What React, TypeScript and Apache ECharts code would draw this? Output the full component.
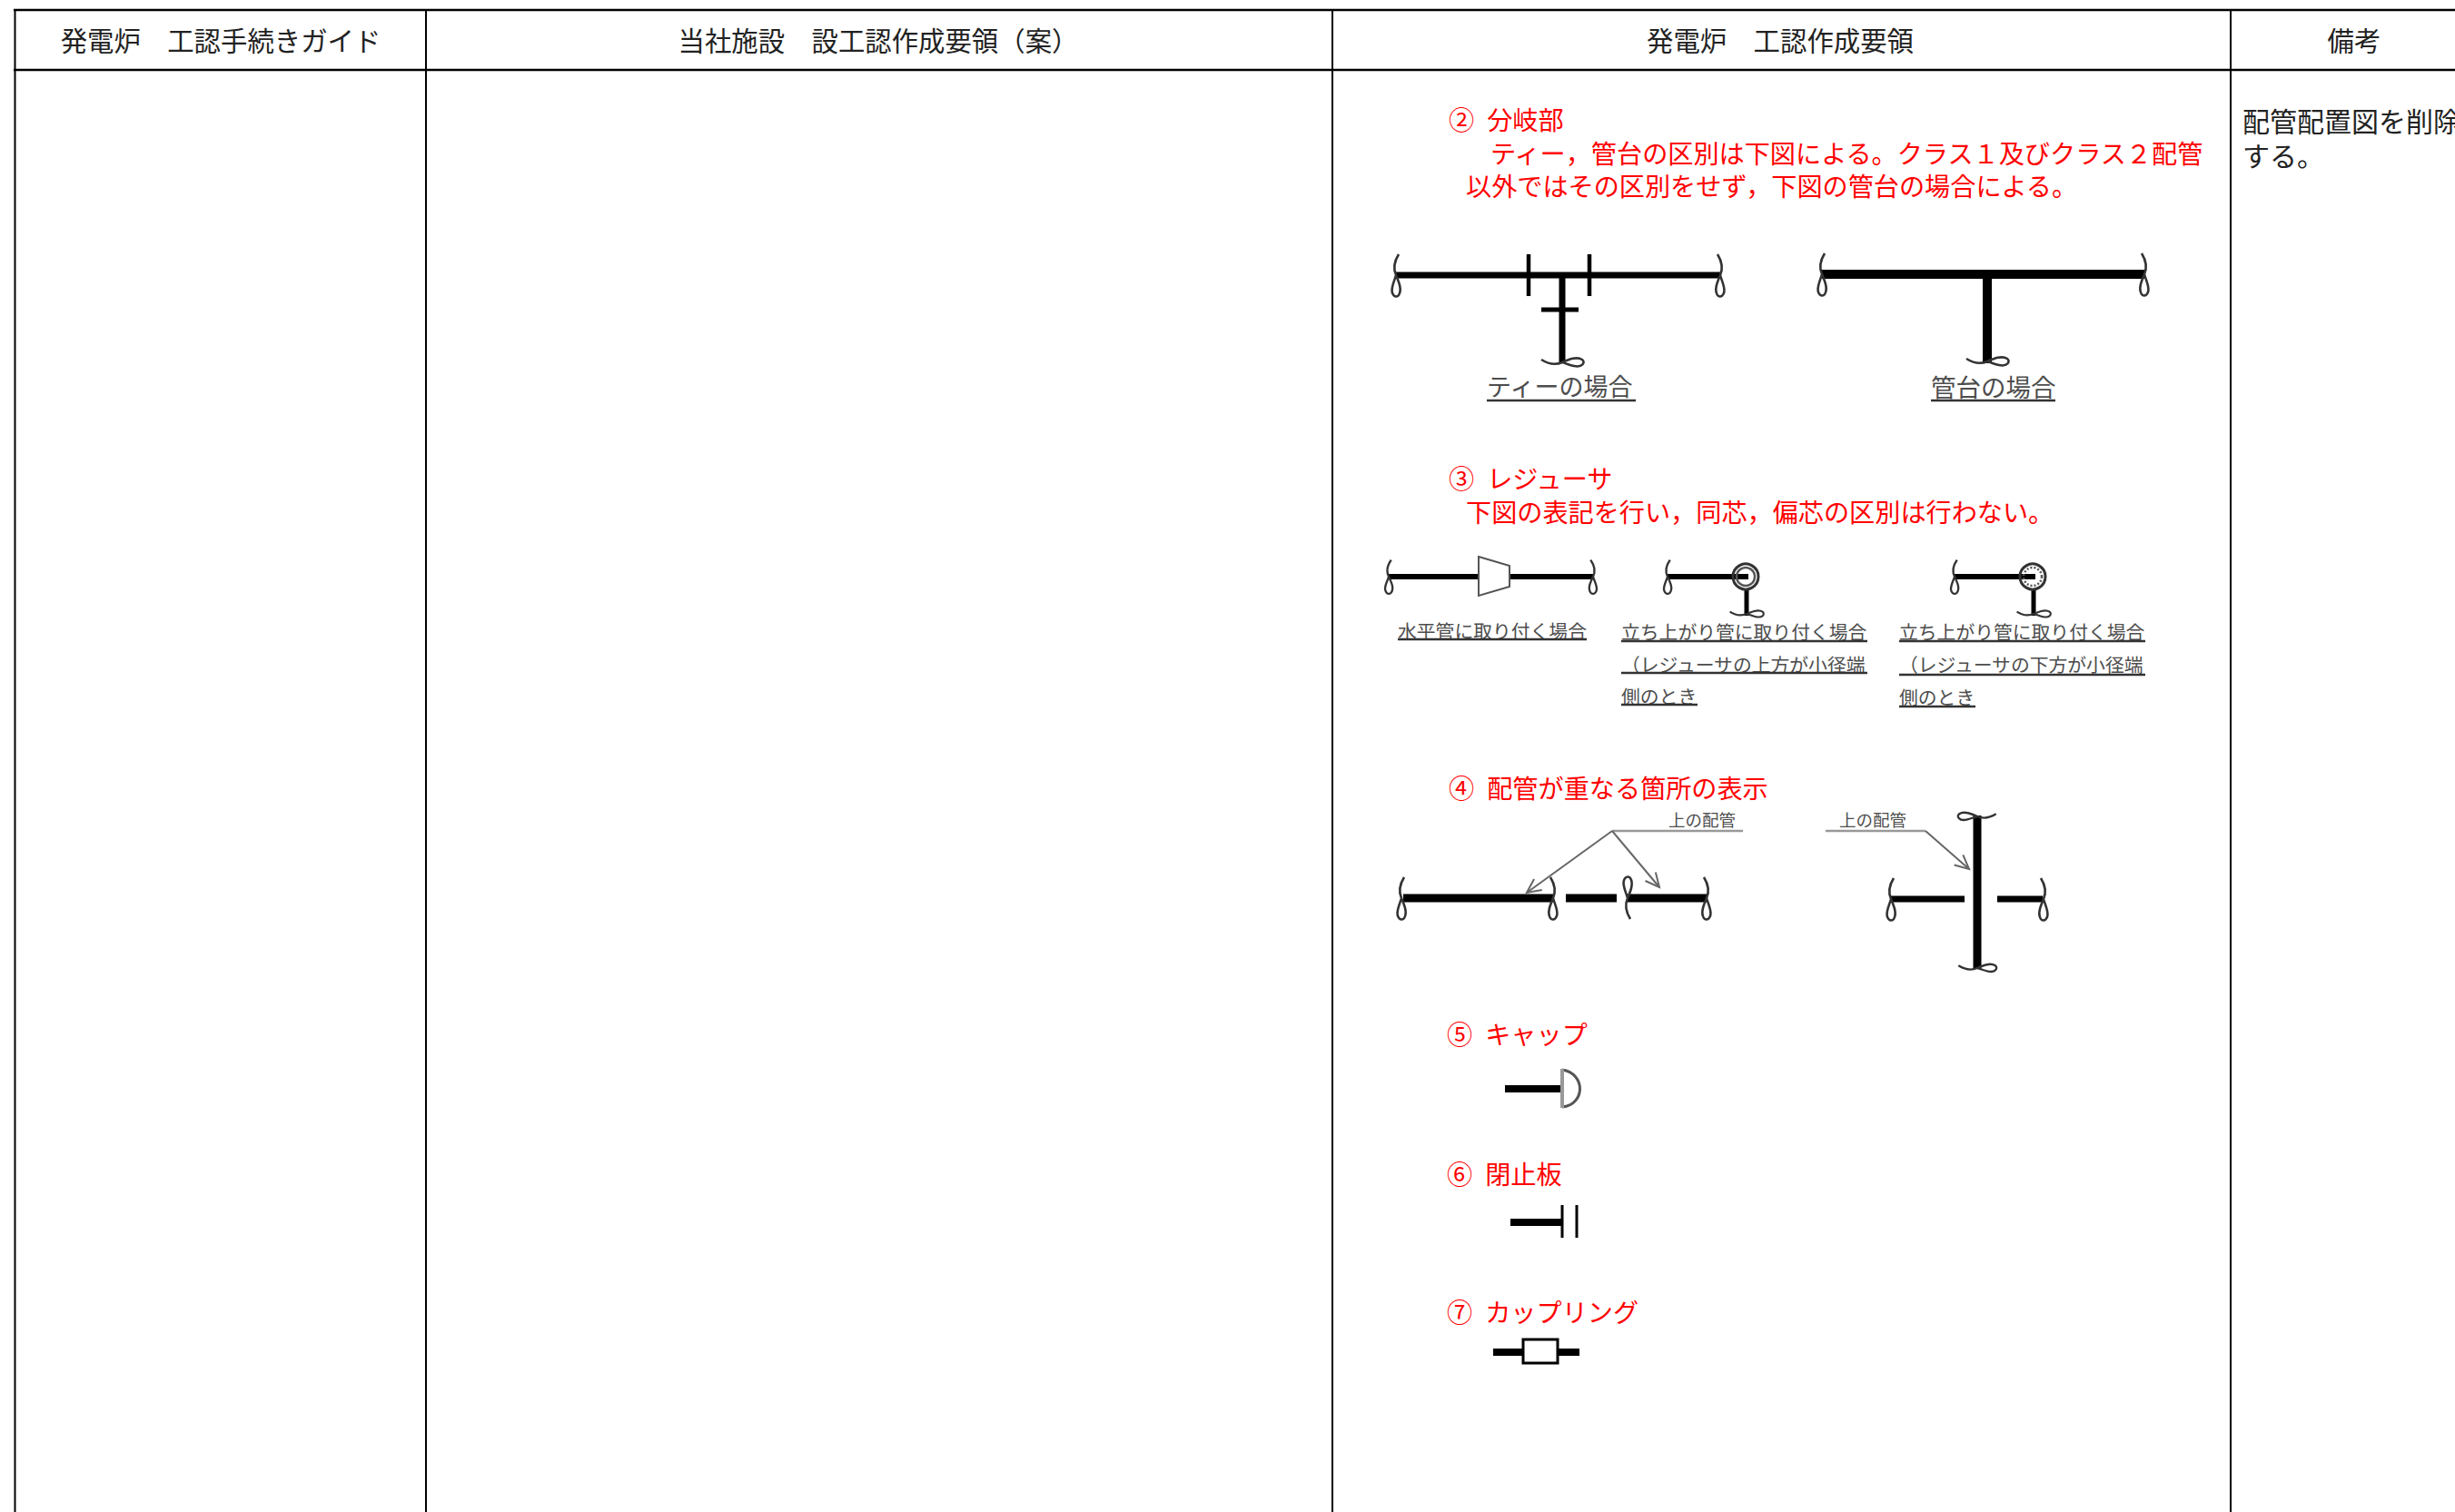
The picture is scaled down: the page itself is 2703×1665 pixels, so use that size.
import React, { useEffect, useRef } from "react";
import * as echarts from "echarts";

const FONT = '"Noto Sans CJK JP", "Noto Sans CJK SC", sans-serif';
const RED = "#ff0000";
const INK = "#000000";
const LABEL = "#4d4d4d";

const headers = ["発電炉　工認手続きガイド", "当社施設　設工認作成要領（案）", "発電炉　工認作成要領", "備考"];
const headerCenters = [243, 967, 1960, 2592];
const columnLines = [16.5, 469, 1467, 2456];

const redTexts: [string, number, number][] = [
  ["②\u2002分岐部", 1595, 130.5],
  ["ティー，管台の区別は下図による。クラス１及びクラス２配管", 1641, 167.5],
  ["以外ではその区別をせず，下図の管台の場合による。", 1614, 203.5],
  ["③\u2002レジューサ", 1595, 525.5],
  ["下図の表記を行い，同芯，偏芯の区別は行わない。", 1614, 562.5],
  ["④\u2002配管が重なる箇所の表示", 1595, 866.5],
  ["⑤\u2002キャップ", 1593, 1137.5],
  ["⑥\u2002閉止板", 1593, 1291.5],
  ["⑦\u2002カップリング", 1593, 1443.5],
];

const remarks: [string, number, number][] = [
  ["配管配置図を削除", 2469, 132],
  ["する。", 2469, 170],
];

// text, x, y, font size, underline y, underline x end
const captions: [string, number, number, number, number, number][] = [
  ["ティーの場合", 1637, 424.5, 27, 441, 1801],
  ["管台の場合", 2126, 424.5, 27.5, 441, 2263],
  ["水平管に取り付く場合", 1539, 693.5, 20.8, 704, 1747],
  ["立ち上がり管に取り付く場合", 1785, 694.5, 20.8, 706, 2056],
  ["（レジューサの上方が小径端", 1785, 730.5, 20.8, 741, 2056],
  ["側のとき", 1785, 765.5, 20.8, 776, 1869],
  ["立ち上がり管に取り付く場合", 2091, 694.5, 20.8, 706, 2362],
  ["（レジューサの下方が小径端", 2091, 731, 20.8, 743, 2362],
  ["側のとき", 2091, 766.5, 20.8, 778, 2175],
];

const overPipeLabel = "上の配管";

echarts.graphic.registerShape(
  "squiggle",
  echarts.graphic.extendPath("M 3 -23 C -2 -15 -3 -7 0 0 C 3 7 7 16 3 22 C 0 26 -6 22 -4 13 C -3 8 -1 4 0 0", {})
);

const txt = (text: string, x: number, y: number, size: number, fill: string, align = "left") => ({
  type: "text",
  x,
  y,
  silent: true,
  style: { text, x: 0, y: 0, fontSize: size, fontFamily: FONT, fill, align, verticalAlign: "middle" },
});

const seg = (x1: number, y1: number, x2: number, y2: number, w: number, stroke = INK) => ({
  type: "line",
  silent: true,
  shape: { x1, y1, x2, y2 },
  style: { stroke, lineWidth: w, lineCap: "butt" },
});

// scale sign flips the squiggle; rotation turns it onto horizontal end
const sq = (x: number, y: number, sx = 1, sy = 1, rot = 0) => ({
  type: "squiggle",
  x,
  y,
  scaleX: sx,
  scaleY: sy,
  rotation: rot,
  silent: true,
  style: { fill: "none", stroke: "#333333", lineWidth: 2.6 },
});

const arrow = (x1: number, y1: number, x2: number, y2: number) => {
  const a = Math.atan2(y2 - y1, x2 - x1);
  const len = 17;
  const p = (d: number) => [x2 - len * Math.cos(a + d), y2 - len * Math.sin(a + d)];
  return [
    seg(x1, y1, x2, y2, 2, "#666666"),
    {
      type: "polyline",
      silent: true,
      shape: { points: [p(0.45), [x2, y2], p(-0.45)] },
      style: { fill: "none", stroke: "#666666", lineWidth: 2 },
    },
  ];
};

const ROT = Math.PI / 2;

function buildGraphic() {
  const g: any[] = [];
  // table
  g.push(seg(15, 11, 2703, 11, 2.5), seg(15, 77, 2703, 77, 2.5));
  columnLines.forEach((x) => g.push(seg(x, 10, x, 1665, 2)));
  headers.forEach((h, i) => g.push(txt(h, headerCenters[i], 42.5, 29.4, "#222222", "center")));
  redTexts.forEach(([t, x, y]) => g.push(txt(t, x, y, 28.15, RED)));
  remarks.forEach(([t, x, y]) => g.push(txt(t, x, y, 30, "#222222")));
  captions.forEach(([t, x, y, s, uy, ux]) => {
    g.push(txt(t, x, y, s, LABEL));
    g.push(seg(x, uy, ux, uy, 2.5, "#333333"));
  });

  // tee
  g.push(seg(1537, 303, 1894, 303, 7), seg(1683, 280, 1683, 326, 4.5), seg(1750, 280, 1750, 326, 4.5));
  g.push(seg(1720, 303, 1720, 400, 7), seg(1697, 341, 1738, 341, 5));
  g.push(sq(1537, 303), sq(1894, 303, -1, 1), sq(1720, 399, 1, 1, ROT));
  // header pipe
  g.push(seg(2006, 302, 2361, 302, 10), seg(2188, 302, 2188, 400, 10));
  g.push(sq(2006, 302), sq(2361, 302, -1, 1), sq(2188, 398, 1, 1, ROT));

  // reducer, horizontal
  g.push(seg(1529, 635, 1627, 635, 6), seg(1662, 635, 1754, 635, 6));
  g.push({
    type: "polygon",
    silent: true,
    shape: { points: [[1628, 613], [1662, 623], [1662, 646], [1628, 656]] },
    style: { fill: "#ffffff", stroke: "#555555", lineWidth: 2 },
  });
  g.push(sq(1529, 635, 0.9, 0.8), sq(1754, 635, -0.9, 0.8));

  // reducer, riser (two variants)
  const risers: [number, number, boolean][] = [
    [1836, 1922, false],
    [2152, 2238, true],
  ];
  risers.forEach(([x0, cx, dashed]) => {
    g.push(seg(x0, 635, cx + 3, 635, 6), seg(cx + 1, 650, cx + 1, 678, 5));
    g.push({
      type: "circle",
      silent: true,
      shape: { cx, cy: 635, r: 14 },
      style: { fill: "none", stroke: "#333333", lineWidth: 3 },
    });
    g.push({
      type: "circle",
      silent: true,
      shape: { cx, cy: 635, r: 10 },
      style: { fill: "none", stroke: "#555555", lineWidth: 2.5, lineDash: dashed ? [2, 2] : undefined },
    });
    g.push(sq(x0, 635, 0.9, 0.8), sq(cx + 1, 676, 0.8, 0.8, ROT));
  });

  // overlapping pipes, left
  g.push(seg(1545, 989, 1710, 989, 9), seg(1724, 989, 1780, 989, 9), seg(1791, 989, 1879, 989, 9));
  g.push(sq(1543, 989), sq(1710, 989, -1, 1), sq(1792, 989, 1, -1), sq(1879, 989, -1, 1));
  g.push(seg(1775, 915, 1919, 915, 2.5, "#999999"));
  g.push(...arrow(1775, 915, 1681, 983), ...arrow(1775, 915, 1827, 977));
  g.push(txt(overPipeLabel, 1837, 902, 18.5, LABEL));

  // overlapping pipes, right
  g.push(seg(2177, 898, 2177, 1067, 9), seg(2082, 990, 2163, 990, 7), seg(2199, 990, 2249, 990, 7));
  g.push(sq(2082, 990), sq(2250, 990, -1, 1));
  g.push(sq(2177, 899, 0.9, -0.9, ROT), sq(2177, 1066, 0.9, 0.9, ROT));
  g.push(seg(2010, 915, 2120, 915, 2.5, "#999999"));
  g.push(...arrow(2120, 915, 2168, 957));
  g.push(txt(overPipeLabel, 2025, 902, 18.5, LABEL));

  // cap
  g.push(seg(1657, 1199, 1719, 1199, 8));
  g.push({
    type: "bezierCurve",
    silent: true,
    shape: { x1: 1720, y1: 1178, cpx1: 1746, cpy1: 1182, cpx2: 1746, cpy2: 1216, x2: 1720, y2: 1219 },
    style: { fill: "none", stroke: "#555555", lineWidth: 3 },
  });
  g.push(seg(1720, 1177, 1720, 1220, 4, "#999999"));

  // blind flange
  g.push(seg(1663, 1346, 1720, 1346, 8), seg(1720, 1327, 1720, 1363, 3), seg(1736, 1327, 1736, 1363, 3));

  // coupling
  g.push(seg(1644, 1489, 1677, 1489, 8), seg(1715, 1489, 1739, 1489, 8));
  g.push({
    type: "rect",
    silent: true,
    shape: { x: 1677, y: 1475, width: 38, height: 26 },
    style: { fill: "#ffffff", stroke: INK, lineWidth: 3 },
  });
  return g;
}

export default function App() {
  const ref = useRef<HTMLDivElement>(null);
  useEffect(() => {
    document.documentElement.style.overflow = "hidden";
    const chart = echarts.init(ref.current!, undefined, { renderer: "svg" });
    chart.setOption({ animation: false, backgroundColor: "#ffffff", graphic: { elements: buildGraphic() } });
    return () => chart.dispose();
  }, []);
  return <div ref={ref} style={{ position: "absolute", left: 0, top: 0, width: 2703, height: 1665 }} />;
}
